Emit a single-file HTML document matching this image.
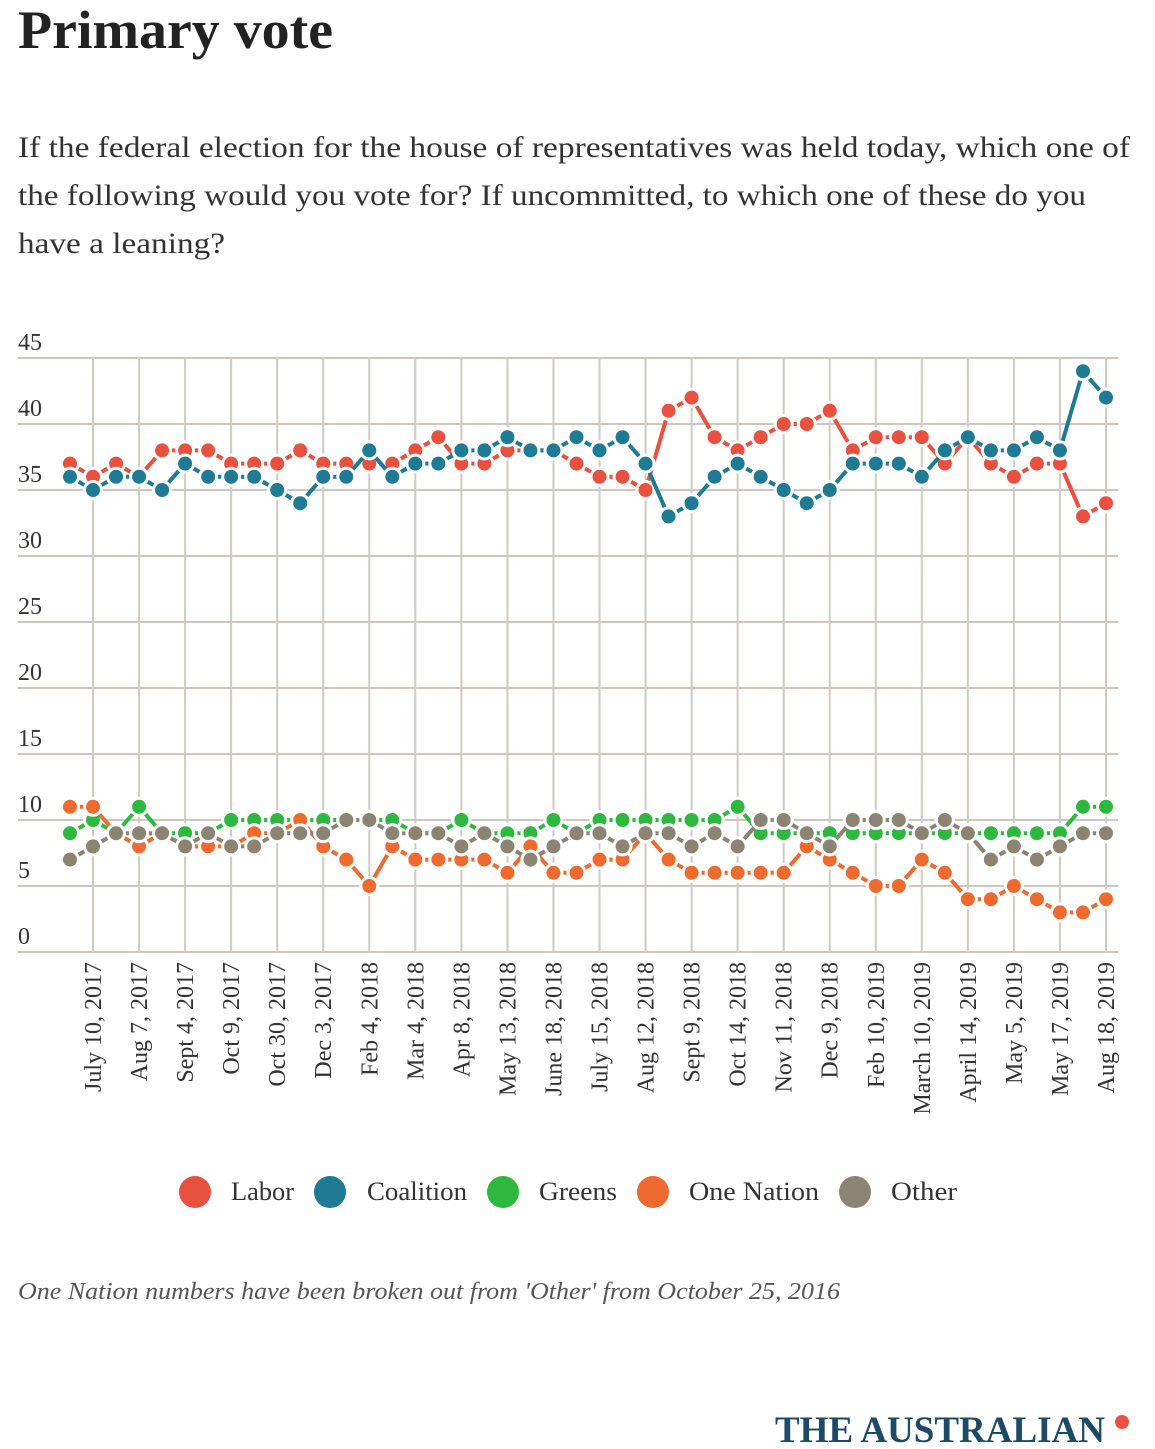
<!DOCTYPE html>
<html><head><meta charset="utf-8"><style>
body{margin:0;background:#fff;width:1155px;height:1449px;overflow:hidden;font-family:"Liberation Serif",serif;}
svg{display:block}
</style></head><body>
<svg id="chart" width="1155" height="1449" xmlns="http://www.w3.org/2000/svg" font-family="Liberation Serif, serif">
<text x="18" y="48" font-size="54" font-weight="bold" fill="#222" textLength="315" lengthAdjust="spacingAndGlyphs">Primary vote</text>
<g font-size="30" fill="#333">
<text x="18" y="157" textLength="1112" lengthAdjust="spacingAndGlyphs">If the federal election for the house of representatives was held today, which one of</text>
<text x="18" y="205" textLength="1068" lengthAdjust="spacingAndGlyphs">the following would you vote for? If uncommitted, to which one of these do you</text>
<text x="18" y="253" textLength="207" lengthAdjust="spacingAndGlyphs">have a leaning?</text>
</g>
<g id="grid"></g>
<g id="yticks"></g>
<g id="xticks"></g>
<g id="series"></g>
<g font-size="26" fill="#333">
<g><circle cx="195" cy="1192" r="16" fill="#e8513f"/><text x="231" y="1200" textLength="63" lengthAdjust="spacingAndGlyphs">Labor</text></g>
<g><circle cx="330" cy="1192" r="16" fill="#1f7a93"/><text x="367" y="1200" textLength="100" lengthAdjust="spacingAndGlyphs">Coalition</text></g>
<g><circle cx="503" cy="1192" r="16" fill="#2fb840"/><text x="539" y="1200" textLength="78" lengthAdjust="spacingAndGlyphs">Greens</text></g>
<g><circle cx="653" cy="1192" r="16" fill="#ee6a2f"/><text x="689" y="1200" textLength="130" lengthAdjust="spacingAndGlyphs">One Nation</text></g>
<g><circle cx="855" cy="1192" r="16" fill="#8c8472"/><text x="891" y="1200" textLength="66" lengthAdjust="spacingAndGlyphs">Other</text></g>
</g>
<text x="18" y="1299" font-size="24" font-style="italic" fill="#555" textLength="822" lengthAdjust="spacingAndGlyphs">One Nation numbers have been broken out from 'Other' from October 25, 2016</text>
<text x="775" y="1442" font-size="37" font-weight="bold" fill="#1d4a66" textLength="330" lengthAdjust="spacingAndGlyphs">THE AUSTRALIAN</text>
<circle cx="1122" cy="1422" r="7" fill="#e8513f"/>
</svg>
<script>
const labor=[37,36,37,36,38,38,38,37,37,37,38,37,37,37,37,38,39,37,37,38,38,38,37,36,36,35,41,42,39,38,39,40,40,41,38,39,39,39,37,39,37,36,37,37,33,34];
const coalition=[36,35,36,36,35,37,36,36,36,35,34,36,36,38,36,37,37,38,38,39,38,38,39,38,39,37,33,34,36,37,36,35,34,35,37,37,37,36,38,39,38,38,39,38,44,42];
const greens=[9,10,9,11,9,9,9,10,10,10,10,10,10,10,10,9,9,10,9,9,9,10,9,10,10,10,10,10,10,11,9,9,9,9,9,9,9,9,9,9,9,9,9,9,11,11];
const oneNation=[11,11,9,8,9,8,8,8,9,9,10,8,7,5,8,7,7,7,7,6,8,6,6,7,7,9,7,6,6,6,6,6,8,7,6,5,5,7,6,4,4,5,4,3,3,4];
const other=[7,8,9,9,9,8,9,8,8,9,9,9,10,10,9,9,9,8,9,8,7,8,9,9,8,9,9,8,9,8,10,10,9,8,10,10,10,9,10,9,7,8,7,8,9,9];
const yTicks=[0,5,10,15,20,25,30,35,40,45];
const xLabels=["July 10, 2017","Aug 7, 2017","Sept 4, 2017","Oct 9, 2017","Oct 30, 2017","Dec 3, 2017","Feb 4, 2018","Mar 4, 2018","Apr 8, 2018","May 13, 2018","June 18, 2018","July 15, 2018","Aug 12, 2018","Sept 9, 2018","Oct 14, 2018","Nov 11, 2018","Dec 9, 2018","Feb 10, 2019","March 10, 2019","April 14, 2019","May 5, 2019","May 17, 2019","Aug 18, 2019"];
const NS="http://www.w3.org/2000/svg";
const x=i=>70+i*(1036/45);
const y=v=>952-v*(594/45);
function mk(t,a,p){const e=document.createElementNS(NS,t);for(const k in a)e.setAttribute(k,a[k]);p.appendChild(e);return e;}
const grid=document.getElementById('grid'),yt=document.getElementById('yticks'),xt=document.getElementById('xticks'),ser=document.getElementById('series');
yTicks.forEach(v=>{
 const l=mk('line',{x1:18,x2:1118,y1:y(v),y2:y(v),stroke:'#cfc6c2','stroke-width':2},grid);
 
 
 const t=mk('text',{x:18,y:y(v)-8,'font-size':24,fill:'#333'},yt);
 t.textContent=v;
 
 
});
xLabels.forEach((s,k)=>{
 const xx=x(1+2*k);
 const l=mk('line',{x1:xx,x2:xx,y1:y(45),y2:y(0),stroke:'#cfcbc4','stroke-width':2},grid);
 
 
 const t=mk('text',{x:0,y:0,'font-size':24,fill:'#333','text-anchor':'end',transform:`translate(${xx+8},962) rotate(-90)`},xt);
 t.textContent=s;
 
 
});
const series=[["labor",labor,"#e8513f"],["coalition",coalition,"#1f7a93"],["greens",greens,"#2fb840"],["one-nation",oneNation,"#ee6a2f"],["other",other,"#8c8472"]];
series.forEach(([n,d,c])=>{
 const g=mk('g',{},ser);
 
 
 const p=mk('polyline',{points:d.map((v,i)=>x(i)+','+y(v)).join(' '),fill:'none',stroke:c,'stroke-width':4},g);
 
 
 d.forEach((v,i)=>{
  const ci=mk('circle',{cx:x(i),cy:y(v),r:8.5,fill:c,stroke:'#fff','stroke-width':3},g);
  
  
 });
});
</script>
</body></html>
